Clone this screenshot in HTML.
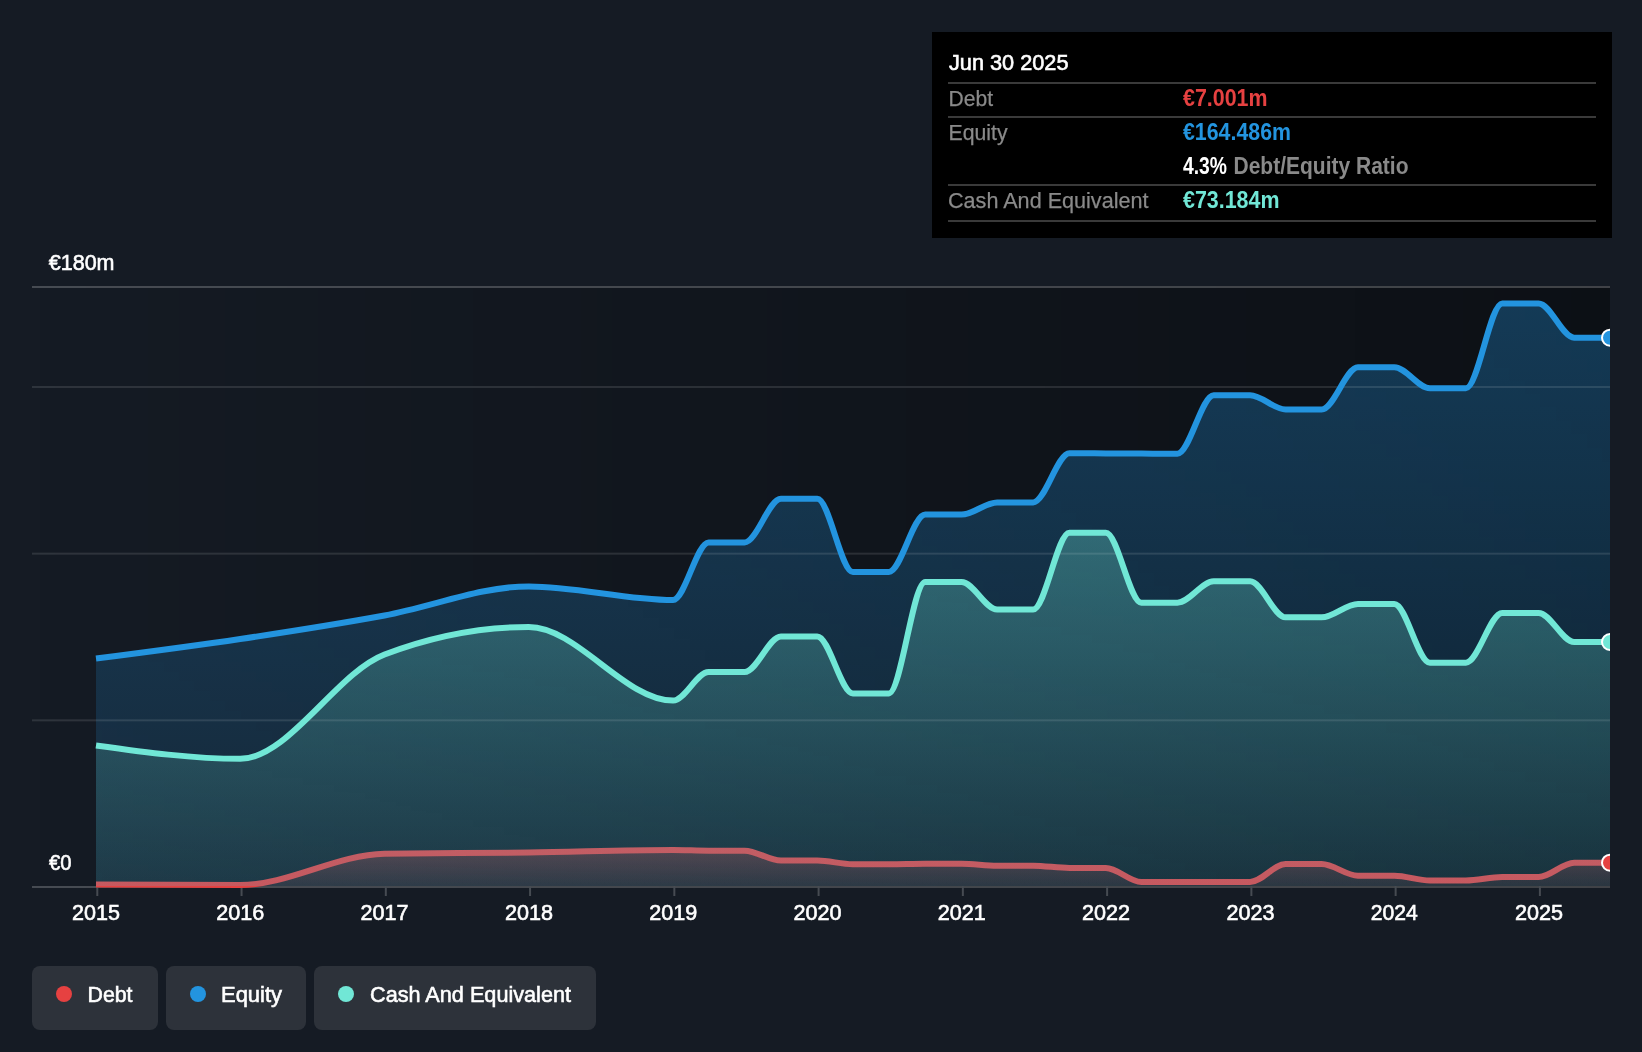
<!DOCTYPE html>
<html><head><meta charset="utf-8"><title>Debt Equity History</title>
<style>
html,body{margin:0;padding:0;background:#151b24;}
body{width:1642px;height:1052px;overflow:hidden;position:relative;font-family:"Liberation Sans",sans-serif;}
svg{position:absolute;left:0;top:0;will-change:transform;}
svg text{font-family:"Liberation Sans",sans-serif;white-space:pre;}
</style></head><body>
<svg width="1642" height="1052" viewBox="0 0 1642 1052">
<defs>
<linearGradient id="bgg" x1="0" y1="0" x2="1" y2="0"><stop offset="0" stop-color="#000" stop-opacity="0"/><stop offset="1" stop-color="#000" stop-opacity="0.4"/></linearGradient>
<linearGradient id="ge" gradientUnits="userSpaceOnUse" x1="0" y1="300" x2="0" y2="886"><stop offset="0" stop-color="#2394df" stop-opacity="0.32"/><stop offset="1" stop-color="#2394df" stop-opacity="0.12"/></linearGradient>
<linearGradient id="gc" gradientUnits="userSpaceOnUse" x1="0" y1="530" x2="0" y2="886"><stop offset="0" stop-color="#71e7d6" stop-opacity="0.31"/><stop offset="1" stop-color="#71e7d6" stop-opacity="0.09"/></linearGradient>
<linearGradient id="gd" gradientUnits="userSpaceOnUse" x1="0" y1="850" x2="0" y2="886"><stop offset="0" stop-color="#e64141" stop-opacity="0.31"/><stop offset="1" stop-color="#e64141" stop-opacity="0.1"/></linearGradient>
<clipPath id="cp"><rect x="32" y="280" width="1578" height="620"/></clipPath>
</defs>
<rect x="32" y="286" width="1578" height="602" fill="url(#bgg)"/>
<rect x="32" y="286" width="1578" height="2" fill="#fff" fill-opacity="0.21"/>
<rect x="32" y="886" width="1578" height="2" fill="#fff" fill-opacity="0.21"/>
<rect x="96.30" y="886" width="2" height="10" fill="#464b52"/><rect x="240.56" y="886" width="2" height="10" fill="#464b52"/><rect x="384.82" y="886" width="2" height="10" fill="#464b52"/><rect x="529.08" y="886" width="2" height="10" fill="#464b52"/><rect x="673.34" y="886" width="2" height="10" fill="#464b52"/><rect x="817.60" y="886" width="2" height="10" fill="#464b52"/><rect x="961.86" y="886" width="2" height="10" fill="#464b52"/><rect x="1106.12" y="886" width="2" height="10" fill="#464b52"/><rect x="1250.38" y="886" width="2" height="10" fill="#464b52"/><rect x="1394.64" y="886" width="2" height="10" fill="#464b52"/><rect x="1538.90" y="886" width="2" height="10" fill="#464b52"/>
<g clip-path="url(#cp)">
<path d="M96.00,884.50C144.09,884.75,192.17,885.00,240.26,885.00C288.35,885.00,336.43,854.50,384.52,853.70C432.61,852.90,480.69,853.12,528.78,852.50C576.87,851.88,624.95,850.00,673.04,850.00C684.90,850.00,696.75,850.70,708.61,850.70C720.60,850.70,732.59,850.70,744.58,850.70C756.70,850.70,768.82,860.50,780.94,860.50C793.06,860.50,805.18,860.50,817.30,860.50C829.16,860.50,841.01,864.20,852.87,864.20C864.86,864.20,876.85,864.20,888.84,864.20C900.96,864.20,913.08,863.70,925.20,863.70C937.32,863.70,949.44,863.70,961.56,863.70C973.42,863.70,985.27,865.70,997.13,865.70C1009.12,865.70,1021.11,865.70,1033.10,865.70C1045.22,865.70,1057.34,868.00,1069.46,868.00C1081.58,868.00,1093.70,868.00,1105.82,868.00C1117.68,868.00,1129.53,882.00,1141.39,882.00C1153.38,882.00,1165.37,882.00,1177.36,882.00C1189.48,882.00,1201.60,882.00,1213.72,882.00C1225.84,882.00,1237.96,882.00,1250.08,882.00C1261.94,882.00,1273.79,864.00,1285.65,864.00C1297.64,864.00,1309.63,864.00,1321.62,864.00C1333.74,864.00,1345.86,875.70,1357.98,875.70C1370.10,875.70,1382.22,875.70,1394.34,875.70C1406.20,875.70,1418.05,880.50,1429.91,880.50C1441.90,880.50,1453.89,880.50,1465.88,880.50C1478.00,880.50,1490.12,877.00,1502.24,877.00C1514.36,877.00,1526.48,877.00,1538.60,877.00C1550.46,877.00,1562.31,862.70,1574.17,862.70C1586.16,862.70,1598.15,862.70,1610.14,862.70L1610.14,886L96.00,886Z" fill="url(#gd)"/>
<path d="M96.00,884.50C144.09,884.75,192.17,885.00,240.26,885.00C288.35,885.00,336.43,854.50,384.52,853.70C432.61,852.90,480.69,853.12,528.78,852.50C576.87,851.88,624.95,850.00,673.04,850.00C684.90,850.00,696.75,850.70,708.61,850.70C720.60,850.70,732.59,850.70,744.58,850.70C756.70,850.70,768.82,860.50,780.94,860.50C793.06,860.50,805.18,860.50,817.30,860.50C829.16,860.50,841.01,864.20,852.87,864.20C864.86,864.20,876.85,864.20,888.84,864.20C900.96,864.20,913.08,863.70,925.20,863.70C937.32,863.70,949.44,863.70,961.56,863.70C973.42,863.70,985.27,865.70,997.13,865.70C1009.12,865.70,1021.11,865.70,1033.10,865.70C1045.22,865.70,1057.34,868.00,1069.46,868.00C1081.58,868.00,1093.70,868.00,1105.82,868.00C1117.68,868.00,1129.53,882.00,1141.39,882.00C1153.38,882.00,1165.37,882.00,1177.36,882.00C1189.48,882.00,1201.60,882.00,1213.72,882.00C1225.84,882.00,1237.96,882.00,1250.08,882.00C1261.94,882.00,1273.79,864.00,1285.65,864.00C1297.64,864.00,1309.63,864.00,1321.62,864.00C1333.74,864.00,1345.86,875.70,1357.98,875.70C1370.10,875.70,1382.22,875.70,1394.34,875.70C1406.20,875.70,1418.05,880.50,1429.91,880.50C1441.90,880.50,1453.89,880.50,1465.88,880.50C1478.00,880.50,1490.12,877.00,1502.24,877.00C1514.36,877.00,1526.48,877.00,1538.60,877.00C1550.46,877.00,1562.31,862.70,1574.17,862.70C1586.16,862.70,1598.15,862.70,1610.14,862.70" fill="none" stroke="#e64141" stroke-width="6"/>
<path d="M96.00,658.60C144.09,652.39,192.17,646.18,240.26,639.00C288.35,631.82,336.43,624.27,384.52,615.50C432.61,606.73,480.69,586.40,528.78,586.40C576.87,586.40,624.95,600.00,673.04,600.00C684.90,600.00,696.75,542.40,708.61,542.40C720.60,542.40,732.59,542.40,744.58,542.40C756.70,542.40,768.82,498.80,780.94,498.80C793.06,498.80,805.18,498.80,817.30,498.80C829.16,498.80,841.01,571.90,852.87,571.90C864.86,571.90,876.85,571.90,888.84,571.90C900.96,571.90,913.08,514.60,925.20,514.60C937.32,514.60,949.44,514.60,961.56,514.60C973.42,514.60,985.27,502.40,997.13,502.40C1009.12,502.40,1021.11,502.40,1033.10,502.40C1045.22,502.40,1057.34,453.20,1069.46,453.20C1081.58,453.20,1093.70,453.33,1105.82,453.40C1117.68,453.47,1129.53,453.53,1141.39,453.60C1153.38,453.67,1165.37,453.80,1177.36,453.80C1189.48,453.80,1201.60,395.20,1213.72,395.20C1225.84,395.20,1237.96,395.20,1250.08,395.20C1261.94,395.20,1273.79,409.50,1285.65,409.50C1297.64,409.50,1309.63,409.50,1321.62,409.50C1333.74,409.50,1345.86,367.30,1357.98,367.30C1370.10,367.30,1382.22,367.30,1394.34,367.30C1406.20,367.30,1418.05,388.30,1429.91,388.30C1441.90,388.30,1453.89,388.30,1465.88,388.30C1478.00,388.30,1490.12,303.40,1502.24,303.40C1514.36,303.40,1526.48,303.40,1538.60,303.40C1550.46,303.40,1562.31,337.70,1574.17,337.70C1586.16,337.70,1598.15,337.70,1610.14,337.70L1610.14,886L96.00,886Z" fill="url(#ge)"/>
<path d="M96.00,745.40C144.09,752.10,192.17,758.80,240.26,758.80C288.35,758.80,336.43,672.83,384.52,654.50C432.61,636.17,480.69,627.00,528.78,627.00C576.87,627.00,624.95,700.60,673.04,700.60C684.90,700.60,696.75,672.00,708.61,672.00C720.60,672.00,732.59,672.00,744.58,672.00C756.70,672.00,768.82,636.40,780.94,636.40C793.06,636.40,805.18,636.40,817.30,636.40C829.16,636.40,841.01,693.40,852.87,693.40C864.86,693.40,876.85,693.40,888.84,693.40C900.96,693.40,913.08,581.90,925.20,581.90C937.32,581.90,949.44,581.90,961.56,581.90C973.42,581.90,985.27,609.50,997.13,609.50C1009.12,609.50,1021.11,609.50,1033.10,609.50C1045.22,609.50,1057.34,532.70,1069.46,532.70C1081.58,532.70,1093.70,532.70,1105.82,532.70C1117.68,532.70,1129.53,602.70,1141.39,602.70C1153.38,602.70,1165.37,602.70,1177.36,602.70C1189.48,602.70,1201.60,581.30,1213.72,581.30C1225.84,581.30,1237.96,581.30,1250.08,581.30C1261.94,581.30,1273.79,617.30,1285.65,617.30C1297.64,617.30,1309.63,617.30,1321.62,617.30C1333.74,617.30,1345.86,603.90,1357.98,603.90C1370.10,603.90,1382.22,603.90,1394.34,603.90C1406.20,603.90,1418.05,662.70,1429.91,662.70C1441.90,662.70,1453.89,662.70,1465.88,662.70C1478.00,662.70,1490.12,612.90,1502.24,612.90C1514.36,612.90,1526.48,612.90,1538.60,612.90C1550.46,612.90,1562.31,642.00,1574.17,642.00C1586.16,642.00,1598.15,642.00,1610.14,642.00L1610.14,886L96.00,886Z" fill="url(#gc)"/>
<rect x="32" y="386" width="1578" height="2" fill="#fff" fill-opacity="0.11"/>
<rect x="32" y="552.67" width="1578" height="2" fill="#fff" fill-opacity="0.11"/>
<rect x="32" y="719.33" width="1578" height="2" fill="#fff" fill-opacity="0.11"/>
<path d="M96.00,658.60C144.09,652.39,192.17,646.18,240.26,639.00C288.35,631.82,336.43,624.27,384.52,615.50C432.61,606.73,480.69,586.40,528.78,586.40C576.87,586.40,624.95,600.00,673.04,600.00C684.90,600.00,696.75,542.40,708.61,542.40C720.60,542.40,732.59,542.40,744.58,542.40C756.70,542.40,768.82,498.80,780.94,498.80C793.06,498.80,805.18,498.80,817.30,498.80C829.16,498.80,841.01,571.90,852.87,571.90C864.86,571.90,876.85,571.90,888.84,571.90C900.96,571.90,913.08,514.60,925.20,514.60C937.32,514.60,949.44,514.60,961.56,514.60C973.42,514.60,985.27,502.40,997.13,502.40C1009.12,502.40,1021.11,502.40,1033.10,502.40C1045.22,502.40,1057.34,453.20,1069.46,453.20C1081.58,453.20,1093.70,453.33,1105.82,453.40C1117.68,453.47,1129.53,453.53,1141.39,453.60C1153.38,453.67,1165.37,453.80,1177.36,453.80C1189.48,453.80,1201.60,395.20,1213.72,395.20C1225.84,395.20,1237.96,395.20,1250.08,395.20C1261.94,395.20,1273.79,409.50,1285.65,409.50C1297.64,409.50,1309.63,409.50,1321.62,409.50C1333.74,409.50,1345.86,367.30,1357.98,367.30C1370.10,367.30,1382.22,367.30,1394.34,367.30C1406.20,367.30,1418.05,388.30,1429.91,388.30C1441.90,388.30,1453.89,388.30,1465.88,388.30C1478.00,388.30,1490.12,303.40,1502.24,303.40C1514.36,303.40,1526.48,303.40,1538.60,303.40C1550.46,303.40,1562.31,337.70,1574.17,337.70C1586.16,337.70,1598.15,337.70,1610.14,337.70" fill="none" stroke="#2394df" stroke-width="6"/>
<path d="M96.00,745.40C144.09,752.10,192.17,758.80,240.26,758.80C288.35,758.80,336.43,672.83,384.52,654.50C432.61,636.17,480.69,627.00,528.78,627.00C576.87,627.00,624.95,700.60,673.04,700.60C684.90,700.60,696.75,672.00,708.61,672.00C720.60,672.00,732.59,672.00,744.58,672.00C756.70,672.00,768.82,636.40,780.94,636.40C793.06,636.40,805.18,636.40,817.30,636.40C829.16,636.40,841.01,693.40,852.87,693.40C864.86,693.40,876.85,693.40,888.84,693.40C900.96,693.40,913.08,581.90,925.20,581.90C937.32,581.90,949.44,581.90,961.56,581.90C973.42,581.90,985.27,609.50,997.13,609.50C1009.12,609.50,1021.11,609.50,1033.10,609.50C1045.22,609.50,1057.34,532.70,1069.46,532.70C1081.58,532.70,1093.70,532.70,1105.82,532.70C1117.68,532.70,1129.53,602.70,1141.39,602.70C1153.38,602.70,1165.37,602.70,1177.36,602.70C1189.48,602.70,1201.60,581.30,1213.72,581.30C1225.84,581.30,1237.96,581.30,1250.08,581.30C1261.94,581.30,1273.79,617.30,1285.65,617.30C1297.64,617.30,1309.63,617.30,1321.62,617.30C1333.74,617.30,1345.86,603.90,1357.98,603.90C1370.10,603.90,1382.22,603.90,1394.34,603.90C1406.20,603.90,1418.05,662.70,1429.91,662.70C1441.90,662.70,1453.89,662.70,1465.88,662.70C1478.00,662.70,1490.12,612.90,1502.24,612.90C1514.36,612.90,1526.48,612.90,1538.60,612.90C1550.46,612.90,1562.31,642.00,1574.17,642.00C1586.16,642.00,1598.15,642.00,1610.14,642.00" fill="none" stroke="#71e7d6" stroke-width="6"/>
<circle cx="1610" cy="337.7" r="8" fill="#2394df" stroke="#fff" stroke-width="2"/>
<circle cx="1610" cy="642" r="8" fill="#71e7d6" stroke="#fff" stroke-width="2"/>
<circle cx="1610" cy="862.7" r="8" fill="#e64141" stroke="#fff" stroke-width="2"/>
</g>
<rect x="932" y="32" width="680" height="206" fill="#000"/>
<rect x="948" y="82" width="648" height="2" fill="#3a3a3a"/>
<rect x="948" y="116" width="648" height="2" fill="#3a3a3a"/>
<rect x="948" y="184" width="648" height="2" fill="#3a3a3a"/>
<rect x="948" y="220" width="648" height="2" fill="#3a3a3a"/>
<rect x="32" y="966" width="126" height="64" rx="8" fill="#2d323a"/>
<rect x="166" y="966" width="140" height="64" rx="8" fill="#2d323a"/>
<rect x="314" y="966" width="282" height="64" rx="8" fill="#2d323a"/>
<circle cx="64" cy="994" r="8" fill="#e64141"/>
<circle cx="198" cy="994" r="8" fill="#2394df"/>
<circle cx="346" cy="994" r="8" fill="#71e7d6"/>
<text x="48.75" y="270.0" font-size="22.0" textLength="65.76" lengthAdjust="spacingAndGlyphs" fill="#ffffff" stroke="#ffffff" stroke-width="0.60">€180m</text>
<text x="49.00" y="870.0" font-size="22.0" textLength="22.53" lengthAdjust="spacingAndGlyphs" fill="#ffffff" stroke="#ffffff" stroke-width="0.60">€0</text>
<text x="72.00" y="920.0" font-size="22.0" textLength="48.01" lengthAdjust="spacingAndGlyphs" fill="#ffffff" stroke="#ffffff" stroke-width="0.60">2015</text>
<text x="216.30" y="920.0" font-size="22.0" textLength="48.03" lengthAdjust="spacingAndGlyphs" fill="#ffffff" stroke="#ffffff" stroke-width="0.60">2016</text>
<text x="360.60" y="920.0" font-size="22.0" textLength="48.03" lengthAdjust="spacingAndGlyphs" fill="#ffffff" stroke="#ffffff" stroke-width="0.60">2017</text>
<text x="504.90" y="920.0" font-size="22.0" textLength="48.03" lengthAdjust="spacingAndGlyphs" fill="#ffffff" stroke="#ffffff" stroke-width="0.60">2018</text>
<text x="649.20" y="920.0" font-size="22.0" textLength="48.01" lengthAdjust="spacingAndGlyphs" fill="#ffffff" stroke="#ffffff" stroke-width="0.60">2019</text>
<text x="793.50" y="920.0" font-size="22.0" textLength="48.03" lengthAdjust="spacingAndGlyphs" fill="#ffffff" stroke="#ffffff" stroke-width="0.60">2020</text>
<text x="937.80" y="920.0" font-size="22.0" textLength="48.03" lengthAdjust="spacingAndGlyphs" fill="#ffffff" stroke="#ffffff" stroke-width="0.60">2021</text>
<text x="1082.10" y="920.0" font-size="22.0" textLength="48.03" lengthAdjust="spacingAndGlyphs" fill="#ffffff" stroke="#ffffff" stroke-width="0.60">2022</text>
<text x="1226.40" y="920.0" font-size="22.0" textLength="48.01" lengthAdjust="spacingAndGlyphs" fill="#ffffff" stroke="#ffffff" stroke-width="0.60">2023</text>
<text x="1370.70" y="920.0" font-size="22.0" textLength="47.03" lengthAdjust="spacingAndGlyphs" fill="#ffffff" stroke="#ffffff" stroke-width="0.60">2024</text>
<text x="1515.00" y="920.0" font-size="22.0" textLength="48.03" lengthAdjust="spacingAndGlyphs" fill="#ffffff" stroke="#ffffff" stroke-width="0.60">2025</text>
<text x="949.00" y="69.8" font-size="22.5" textLength="119.50" lengthAdjust="spacingAndGlyphs" fill="#ffffff" stroke="#ffffff" stroke-width="0.60">Jun 30 2025</text>
<text x="948.50" y="106.0" font-size="22.5" textLength="44.55" lengthAdjust="spacingAndGlyphs" fill="#8a8a8a" stroke="#8a8a8a" stroke-width="0.25">Debt</text>
<text x="948.50" y="140.0" font-size="22.5" textLength="59.04" lengthAdjust="spacingAndGlyphs" fill="#8a8a8a" stroke="#8a8a8a" stroke-width="0.25">Equity</text>
<text x="948.00" y="208.0" font-size="22.5" textLength="200.50" lengthAdjust="spacingAndGlyphs" fill="#8a8a8a" stroke="#8a8a8a" stroke-width="0.25">Cash And Equivalent</text>
<text x="1183.00" y="106.0" font-size="23.4" textLength="84.51" lengthAdjust="spacingAndGlyphs" fill="#e64141" font-weight="bold">€7.001m</text>
<text x="1183.00" y="140.0" font-size="23.4" textLength="108.01" lengthAdjust="spacingAndGlyphs" fill="#2394df" font-weight="bold">€164.486m</text>
<text x="1183.00" y="174.0" font-size="23.4" textLength="44.01" lengthAdjust="spacingAndGlyphs" fill="#ffffff" font-weight="bold">4.3%</text>
<text x="1233.50" y="174.0" font-size="23.4" textLength="175.01" lengthAdjust="spacingAndGlyphs" fill="#8a8a8a" font-weight="bold">Debt/Equity Ratio</text>
<text x="1183.00" y="208.0" font-size="23.4" textLength="96.51" lengthAdjust="spacingAndGlyphs" fill="#71e7d6" font-weight="bold">€73.184m</text>
<text x="87.50" y="1002.0" font-size="22.6" textLength="45.01" lengthAdjust="spacingAndGlyphs" fill="#ffffff" stroke="#ffffff" stroke-width="0.60">Debt</text>
<text x="221.00" y="1002.0" font-size="22.6" textLength="61.02" lengthAdjust="spacingAndGlyphs" fill="#ffffff" stroke="#ffffff" stroke-width="0.60">Equity</text>
<text x="370.00" y="1002.0" font-size="22.6" textLength="201.00" lengthAdjust="spacingAndGlyphs" fill="#ffffff" stroke="#ffffff" stroke-width="0.60">Cash And Equivalent</text>
</svg>
</body></html>
